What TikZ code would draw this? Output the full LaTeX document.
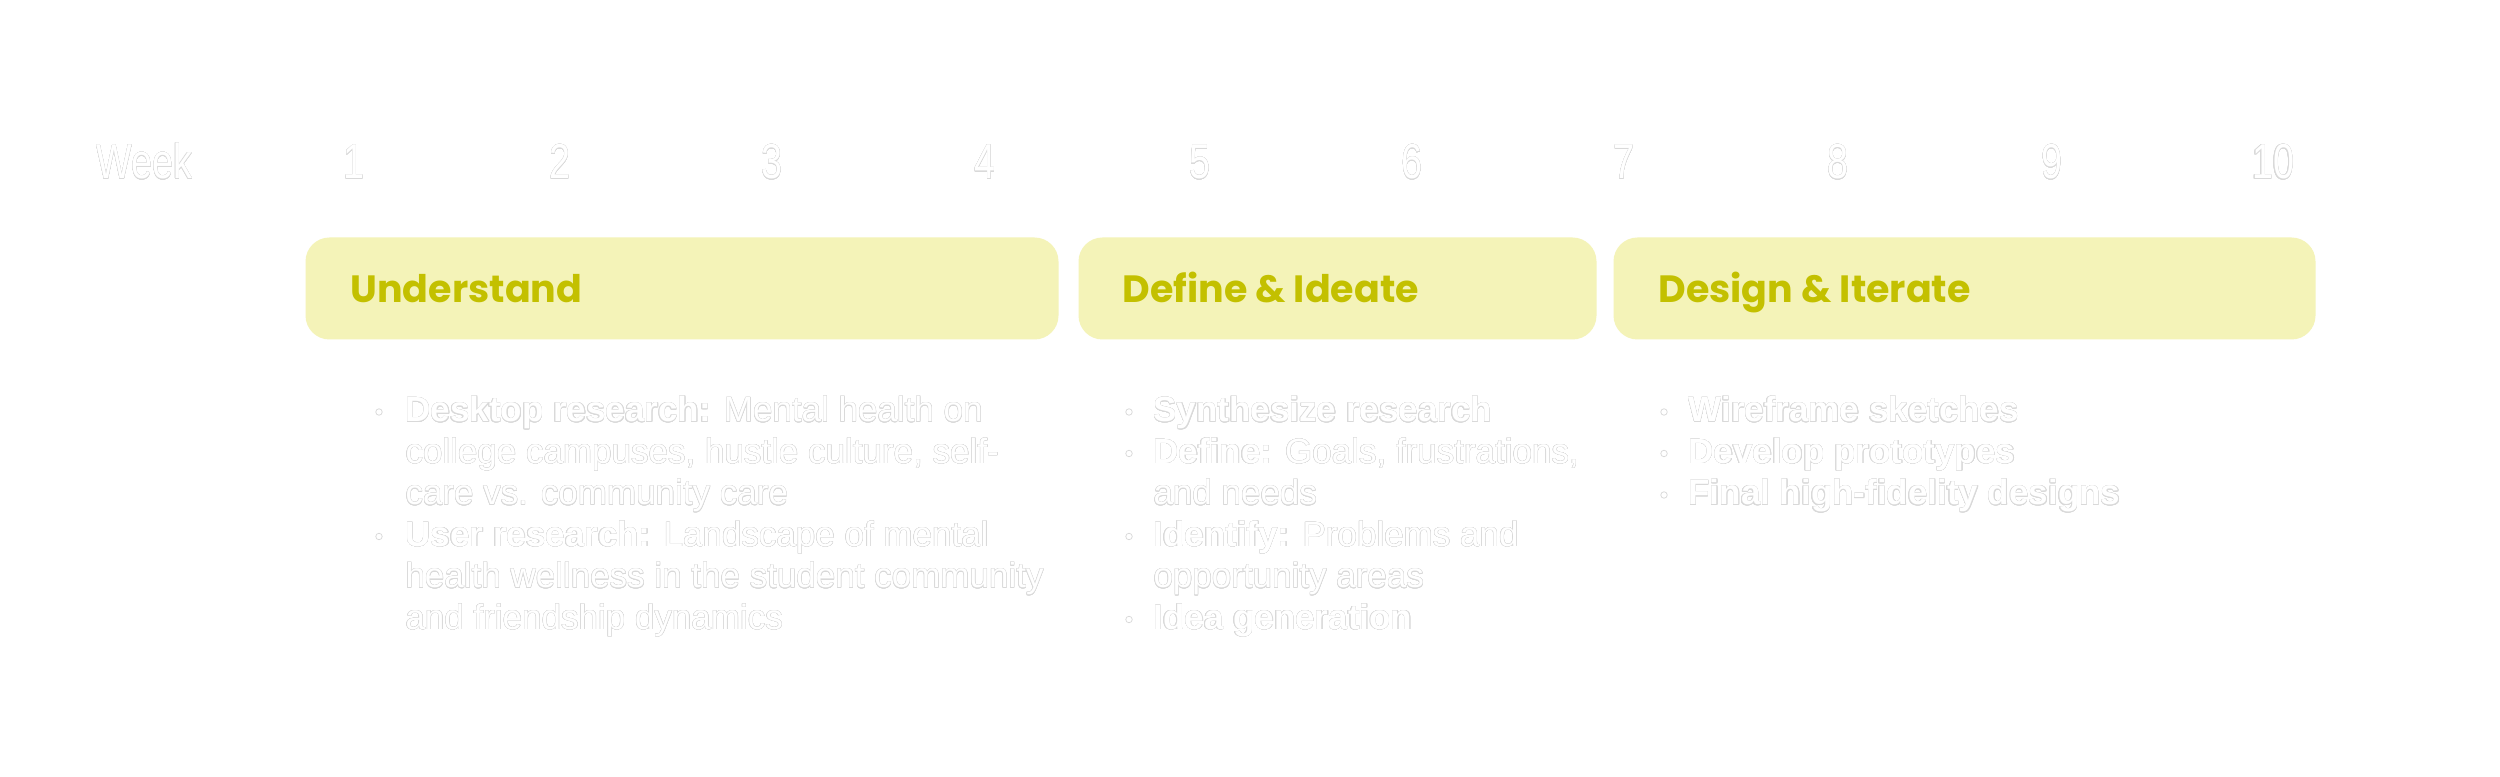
\documentclass[tikz,border=0pt]{standalone}
\usepackage{fontspec}
\usepackage{contour}
\setmainfont{Liberation Sans}
\newfontfamily\weekfont{Liberation Sans}[FakeStretch=0.77]
\newfontfamily\headfont{Poppins}
\contourlength{0.16pt}
\contournumber{16}
\definecolor{boxfill}{HTML}{F4F3B8}
\definecolor{headtxt}{HTML}{C3C000}
\definecolor{edge}{HTML}{D9D9D9}
\newcommand{\ol}[1]{\contour{edge}{#1}}
\tikzset{
  wk/.style={anchor=base, inner sep=0pt, text=white, font=\weekfont\fontsize{19.6}{22}\selectfont},
  phase/.style={fill=boxfill, draw=none, rounded corners=9.6pt, anchor=north west, inner sep=0pt},
  head/.style={anchor=base west, inner sep=0pt, text=headtxt, font=\headfont\bfseries\fontsize{15.2}{18}\selectfont},
  body/.style={anchor=base west, inner sep=0pt, text=white, font=\fontsize{14.0}{16.6}\selectfont},
  bul/.style={circle, fill=white, draw=edge, line width=0.3pt, inner sep=0pt, minimum size=2.6pt}
}
\begin{document}
\begin{tikzpicture}[x={(0.4pt,0)}, y={(0,-0.4pt)}]
\useasboundingbox[fill=white] (0,0) rectangle (2500,777);
% week row
\node[wk, anchor=base west] (wlab) at (96,179) {\ol{Week}};
\node[wk] (w1) at (354,179) {\ol{1}};
\node[wk] (w2) at (560,179) {\ol{2}};
\node[wk] (w3) at (772,179) {\ol{3}};
\node[wk] (w4) at (985,179) {\ol{4}};
\node[wk] (w5) at (1200,179) {\ol{5}};
\node[wk] (w6) at (1412,179) {\ol{6}};
\node[wk] (w7) at (1624,179) {\ol{7}};
\node[wk] (w8) at (1838,179) {\ol{8}};
\node[wk] (w9) at (2052,179) {\ol{9}};
\node[wk] (w10) at (2273,179) {\ol{10}};
% phase boxes
\node[phase, minimum width=301.2pt, minimum height=40.8pt] (p1) at (305,237) {};
\node[phase, minimum width=207.2pt, minimum height=40.8pt] (p2) at (1078,237) {};
\node[phase, minimum width=280.8pt, minimum height=40.8pt] (p3) at (1613,237) {};
\node[head] (h1) at (350,303) {Understand};
\node[head] (h2) at (1122,303) {Define \& Ideate};
\node[head] (h3) at (1658,303) {Design \& Iterate};
% column 1
\node[bul] (b11) at (379,412) {};
\node[body] (t11a) at (405,422) {\ol{\textbf{Desktop research:} Mental health on}};
\node[body] (t11b) at (405,463.5) {\ol{college campuses, hustle culture, self-}};
\node[body] (t11c) at (405,505) {\ol{care vs. community care}};
\node[bul] (b12) at (379,536.5) {};
\node[body] (t12a) at (405,546.5) {\ol{\textbf{User research:} Landscape of mental}};
\node[body] (t12b) at (405,588) {\ol{health wellness in the student community}};
\node[body] (t12c) at (405,629.5) {\ol{and friendship dynamics}};
% column 2
\node[bul] (b21) at (1129,412) {};
\node[body] (t21a) at (1153,422) {\ol{\textbf{Synthesize research}}};
\node[bul] (b22) at (1129,453.5) {};
\node[body] (t22a) at (1153,463.5) {\ol{\textbf{Define:} Goals, frustrations,}};
\node[body] (t22b) at (1153,505) {\ol{and needs}};
\node[bul] (b23) at (1129,536.5) {};
\node[body] (t23a) at (1153,546.5) {\ol{\textbf{Identify:} Problems and}};
\node[body] (t23b) at (1153,588) {\ol{opportunity areas}};
\node[bul] (b24) at (1129,619.5) {};
\node[body] (t24a) at (1153,629.5) {\ol{\textbf{Idea generation}}};
% column 3
\node[bul] (b31) at (1664,412) {};
\node[body] (t31a) at (1688,422) {\ol{\textbf{Wireframe sketches}}};
\node[bul] (b32) at (1664,453.5) {};
\node[body] (t32a) at (1688,463.5) {\ol{\textbf{Develop prototypes}}};
\node[bul] (b33) at (1664,495) {};
\node[body] (t33a) at (1688,505) {\ol{\textbf{Final high-fidelity designs}}};
\end{tikzpicture}
\end{document}
